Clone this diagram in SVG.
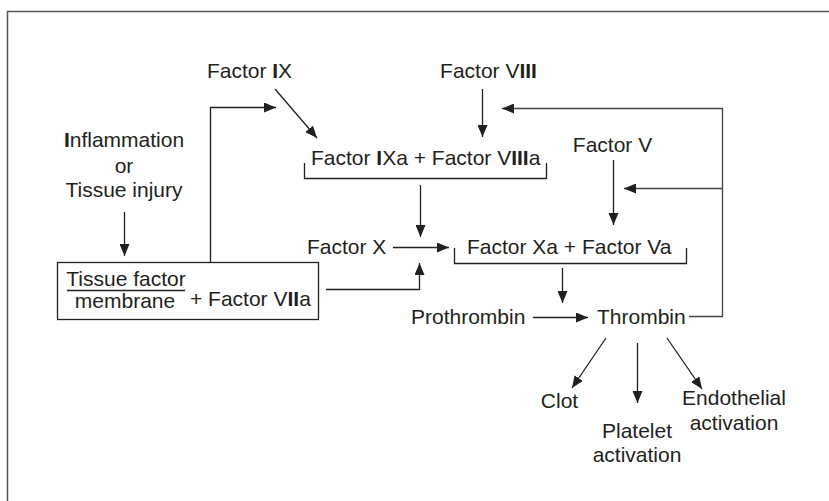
<svg xmlns="http://www.w3.org/2000/svg" width="829" height="501" viewBox="0 0 829 501">
<style>
text{font-family:"Liberation Sans",Arial,sans-serif;font-size:21px;fill:#231f20}
.b{font-weight:bold}
.m{text-anchor:middle}
.c{fill:none;stroke:#231f20;stroke-width:1.3}
.f{fill:none;stroke:#444;stroke-width:1.3}
</style>
<defs>
<marker id="ah" viewBox="0 0 12 10" refX="12" refY="5" markerWidth="12" markerHeight="10" markerUnits="userSpaceOnUse" orient="auto">
<path d="M0,0 L12,5 L0,10 Z" fill="#231f20"/>
</marker>
</defs>
<rect width="829" height="501" fill="#fff"/>
<path d="M7.5,501 V11.5 H829" fill="none" stroke="#555" stroke-width="1.5"/>

<g id="inflammation">
<text class="m" x="124" y="147"><tspan class="b">I</tspan>nflammation</text>
<text class="m" x="124" y="173">or</text>
<text class="m" x="124" y="197">Tissue injury</text>
</g>
<g id="tissue-factor">
<rect x="57.5" y="262.5" width="261" height="57" fill="none" stroke="#231f20" stroke-width="1.3"/>
<text class="m" x="126" y="286">Tissue factor</text>
<line x1="67" y1="290.5" x2="185" y2="290.5" stroke="#231f20" stroke-width="1.5"/>
<text class="m" x="125" y="308">membrane</text>
<text x="190" y="306">+ Factor V<tspan class="b">II</tspan>a</text>
</g>
<g id="factor-ix"><text class="m" x="249.5" y="78">Factor <tspan class="b">I</tspan>X</text></g>
<g id="factor-viii"><text class="m" x="488.5" y="78">Factor V<tspan class="b">III</tspan></text></g>
<g id="ixa-viiia">
<text x="311" y="165">Factor <tspan class="b">I</tspan>Xa + Factor V<tspan class="b">III</tspan>a</text>
<path class="c" d="M304.5,163 V178.5 H546.5 V163"/>
</g>
<g id="factor-v"><text class="m" x="612.5" y="152">Factor V</text></g>
<g id="factor-x"><text x="307" y="254">Factor X</text></g>
<g id="xa-va">
<text x="467" y="254">Factor Xa + Factor Va</text>
<path class="c" d="M454.5,248 V263.5 H686.5 V248"/>
</g>
<g id="prothrombin"><text x="411" y="324">Prothrombin</text></g>
<g id="thrombin"><text x="597" y="324">Thrombin</text></g>
<g id="clot"><text class="m" x="559.5" y="408">Clot</text></g>
<g id="platelet"><text class="m" x="637" y="438">Platelet</text><text class="m" x="637" y="462">activation</text></g>
<g id="endothelial"><text class="m" x="734" y="405">Endothelial</text><text class="m" x="734" y="430">activation</text></g>

<g id="connectors">
<line class="c" x1="124.5" y1="212" x2="124.5" y2="256" marker-end="url(#ah)"/>
<path class="c" d="M210.5,262 V107.5 H276" marker-end="url(#ah)"/>
<line class="c" x1="275" y1="89" x2="317" y2="138" marker-end="url(#ah)"/>
<line class="c" x1="482.5" y1="89" x2="482.5" y2="137" marker-end="url(#ah)"/>
<line class="c" x1="420.5" y1="185" x2="420.5" y2="237" marker-end="url(#ah)"/>
<line class="c" x1="393" y1="247.5" x2="449" y2="247.5" marker-end="url(#ah)"/>
<path class="c" d="M326,289.5 H419.5 V263" marker-end="url(#ah)"/>
<line class="c" x1="613.5" y1="160" x2="613.5" y2="225" marker-end="url(#ah)"/>
<path class="f" d="M689,316.5 H722.5 V108.5 H502" marker-end="url(#ah)"/>
<line class="f" x1="722.5" y1="188.5" x2="624" y2="188.5" marker-end="url(#ah)"/>
<line class="c" x1="562.5" y1="268" x2="562.5" y2="303" marker-end="url(#ah)"/>
<line class="c" x1="533" y1="317.5" x2="588" y2="317.5" marker-end="url(#ah)"/>
<line class="c" x1="606" y1="338" x2="572" y2="388" marker-end="url(#ah)"/>
<line class="c" x1="637.5" y1="343" x2="637.5" y2="403" marker-end="url(#ah)"/>
<line class="c" x1="667" y1="338" x2="702" y2="389" marker-end="url(#ah)"/>
</g>
</svg>
